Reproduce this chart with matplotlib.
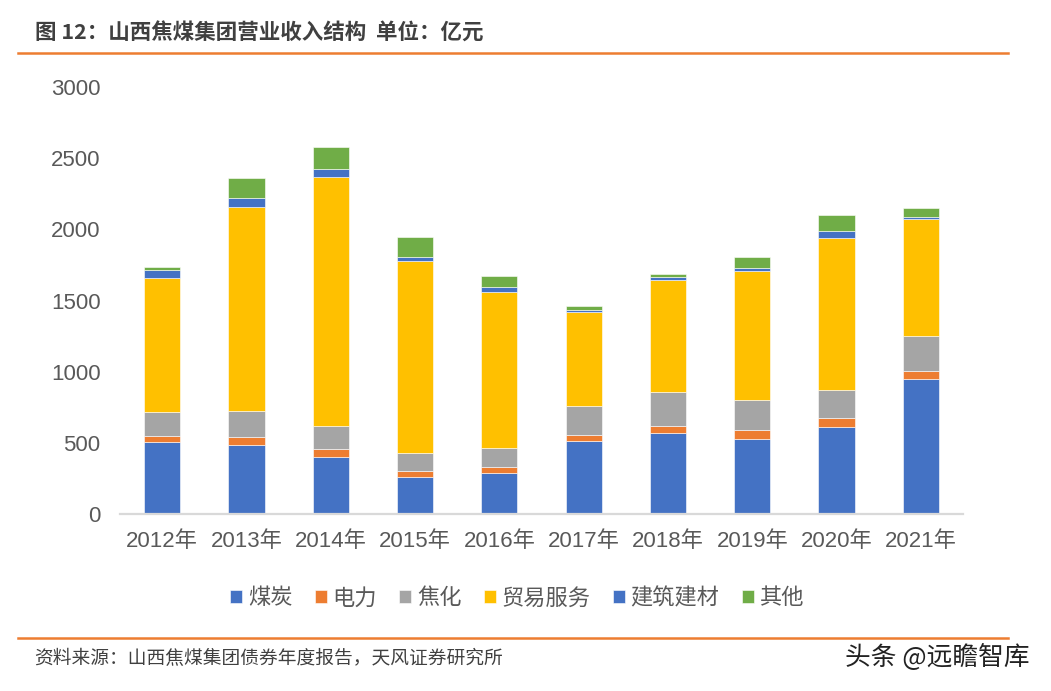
import numpy as np
import matplotlib.pyplot as plt
from matplotlib.lines import Line2D

# 山西焦煤集团营业收入结构（亿元）
years = ['2012年', '2013年', '2014年', '2015年', '2016年',
         '2017年', '2018年', '2019年', '2020年', '2021年']
coal = [508, 485, 403, 262, 288, 513, 567, 527, 609, 948]
power = [42, 54, 51, 40, 40, 40, 54, 65, 68, 59]
coking = [164, 187, 167, 124, 134, 206, 234, 209, 192, 246]
trade = [942, 1433, 1749, 1352, 1100, 658, 789, 904, 1072, 818]
building = [58, 64, 54, 30, 31, 19, 21, 21, 50, 18]
other = [24, 135, 152, 140, 79, 23, 23, 82, 110, 63]

series_names = ['煤炭', '电力', '焦化', '贸易服务', '建筑建材', '其他']
colors = ['#4472C4', '#ED7D31', '#A5A5A5', '#FFC000', '#4472C4', '#70AD47']

plt.rcParams['font.family'] = ['Liberation Sans', 'Noto Sans CJK SC']
txt_color = '#595959'

fig = plt.figure(figsize=(10.51, 6.91), dpi=100)
ax = fig.add_axes([120 / 1051, 1 - 514 / 691, (963 - 120) / 1051, (514 - 87) / 691])

x = np.arange(len(years))
bottom = np.zeros(len(years))
for name, vals, c in zip(series_names, [coal, power, coking, trade, building, other], colors):
    ax.bar(x, vals, width=0.43, bottom=bottom, color=c, label=name,
           edgecolor='white', linewidth=0.4)
    bottom += np.array(vals)

ax.set_xlim(-0.5, len(years) - 0.5)
ax.set_ylim(0, 3000)
ax.set_yticks(np.arange(0, 3001, 500))
ax.set_xticks(x)
ax.set_xticklabels(years)
ax.tick_params(axis='both', length=0, labelsize=16, labelcolor=txt_color)
ax.tick_params(axis='y', pad=14)
ax.tick_params(axis='x', pad=12)
for s in ['top', 'right', 'left']:
    ax.spines[s].set_visible(False)
ax.spines['bottom'].set_color('#D9D9D9')
ax.spines['bottom'].set_linewidth(1.6)

leg = ax.legend(loc='center', bbox_to_anchor=(517 / 1051, 1 - 598 / 691),
                bbox_transform=fig.transFigure, ncol=6, frameon=False,
                prop={'family': 'Noto Sans CJK SC', 'size': 16},
                handlelength=0.55, handleheight=0.55, handletextpad=0.25,
                columnspacing=1.0, borderaxespad=0)
for t in leg.get_texts():
    t.set_color(txt_color)

# 标题和横线
fig.text(35 / 1051, 1 - 33 / 691, '图 12：山西焦煤集团营业收入结构  单位：亿元',
         fontsize=15.5, fontweight='bold', color='#404040', va='center', ha='left',
         family=['Noto Sans CJK SC'])
fig.add_artist(Line2D([18 / 1051, 1008 / 1051], [1 - 53 / 691, 1 - 53 / 691],
                      color='#ED7D31', linewidth=1.8, transform=fig.transFigure))
fig.add_artist(Line2D([18 / 1051, 1008 / 1051], [1 - 638 / 691, 1 - 638 / 691],
                      color='#ED7D31', linewidth=1.8, transform=fig.transFigure))

fig.text(34 / 1051, 1 - 659 / 691, '资料来源：山西焦煤集团债券年度报告，天风证券研究所',
         fontsize=13.5, color='#404040', va='center', ha='left',
         family=['Noto Sans CJK SC'])
fig.text(1030 / 1051, 1 - 657 / 691, '头条 @远瞻智库',
         fontsize=18.5, color='#222222', va='center', ha='right',
         family=['Noto Sans CJK SC', 'DejaVu Sans'])

fig.savefig('out.png', dpi=100)
